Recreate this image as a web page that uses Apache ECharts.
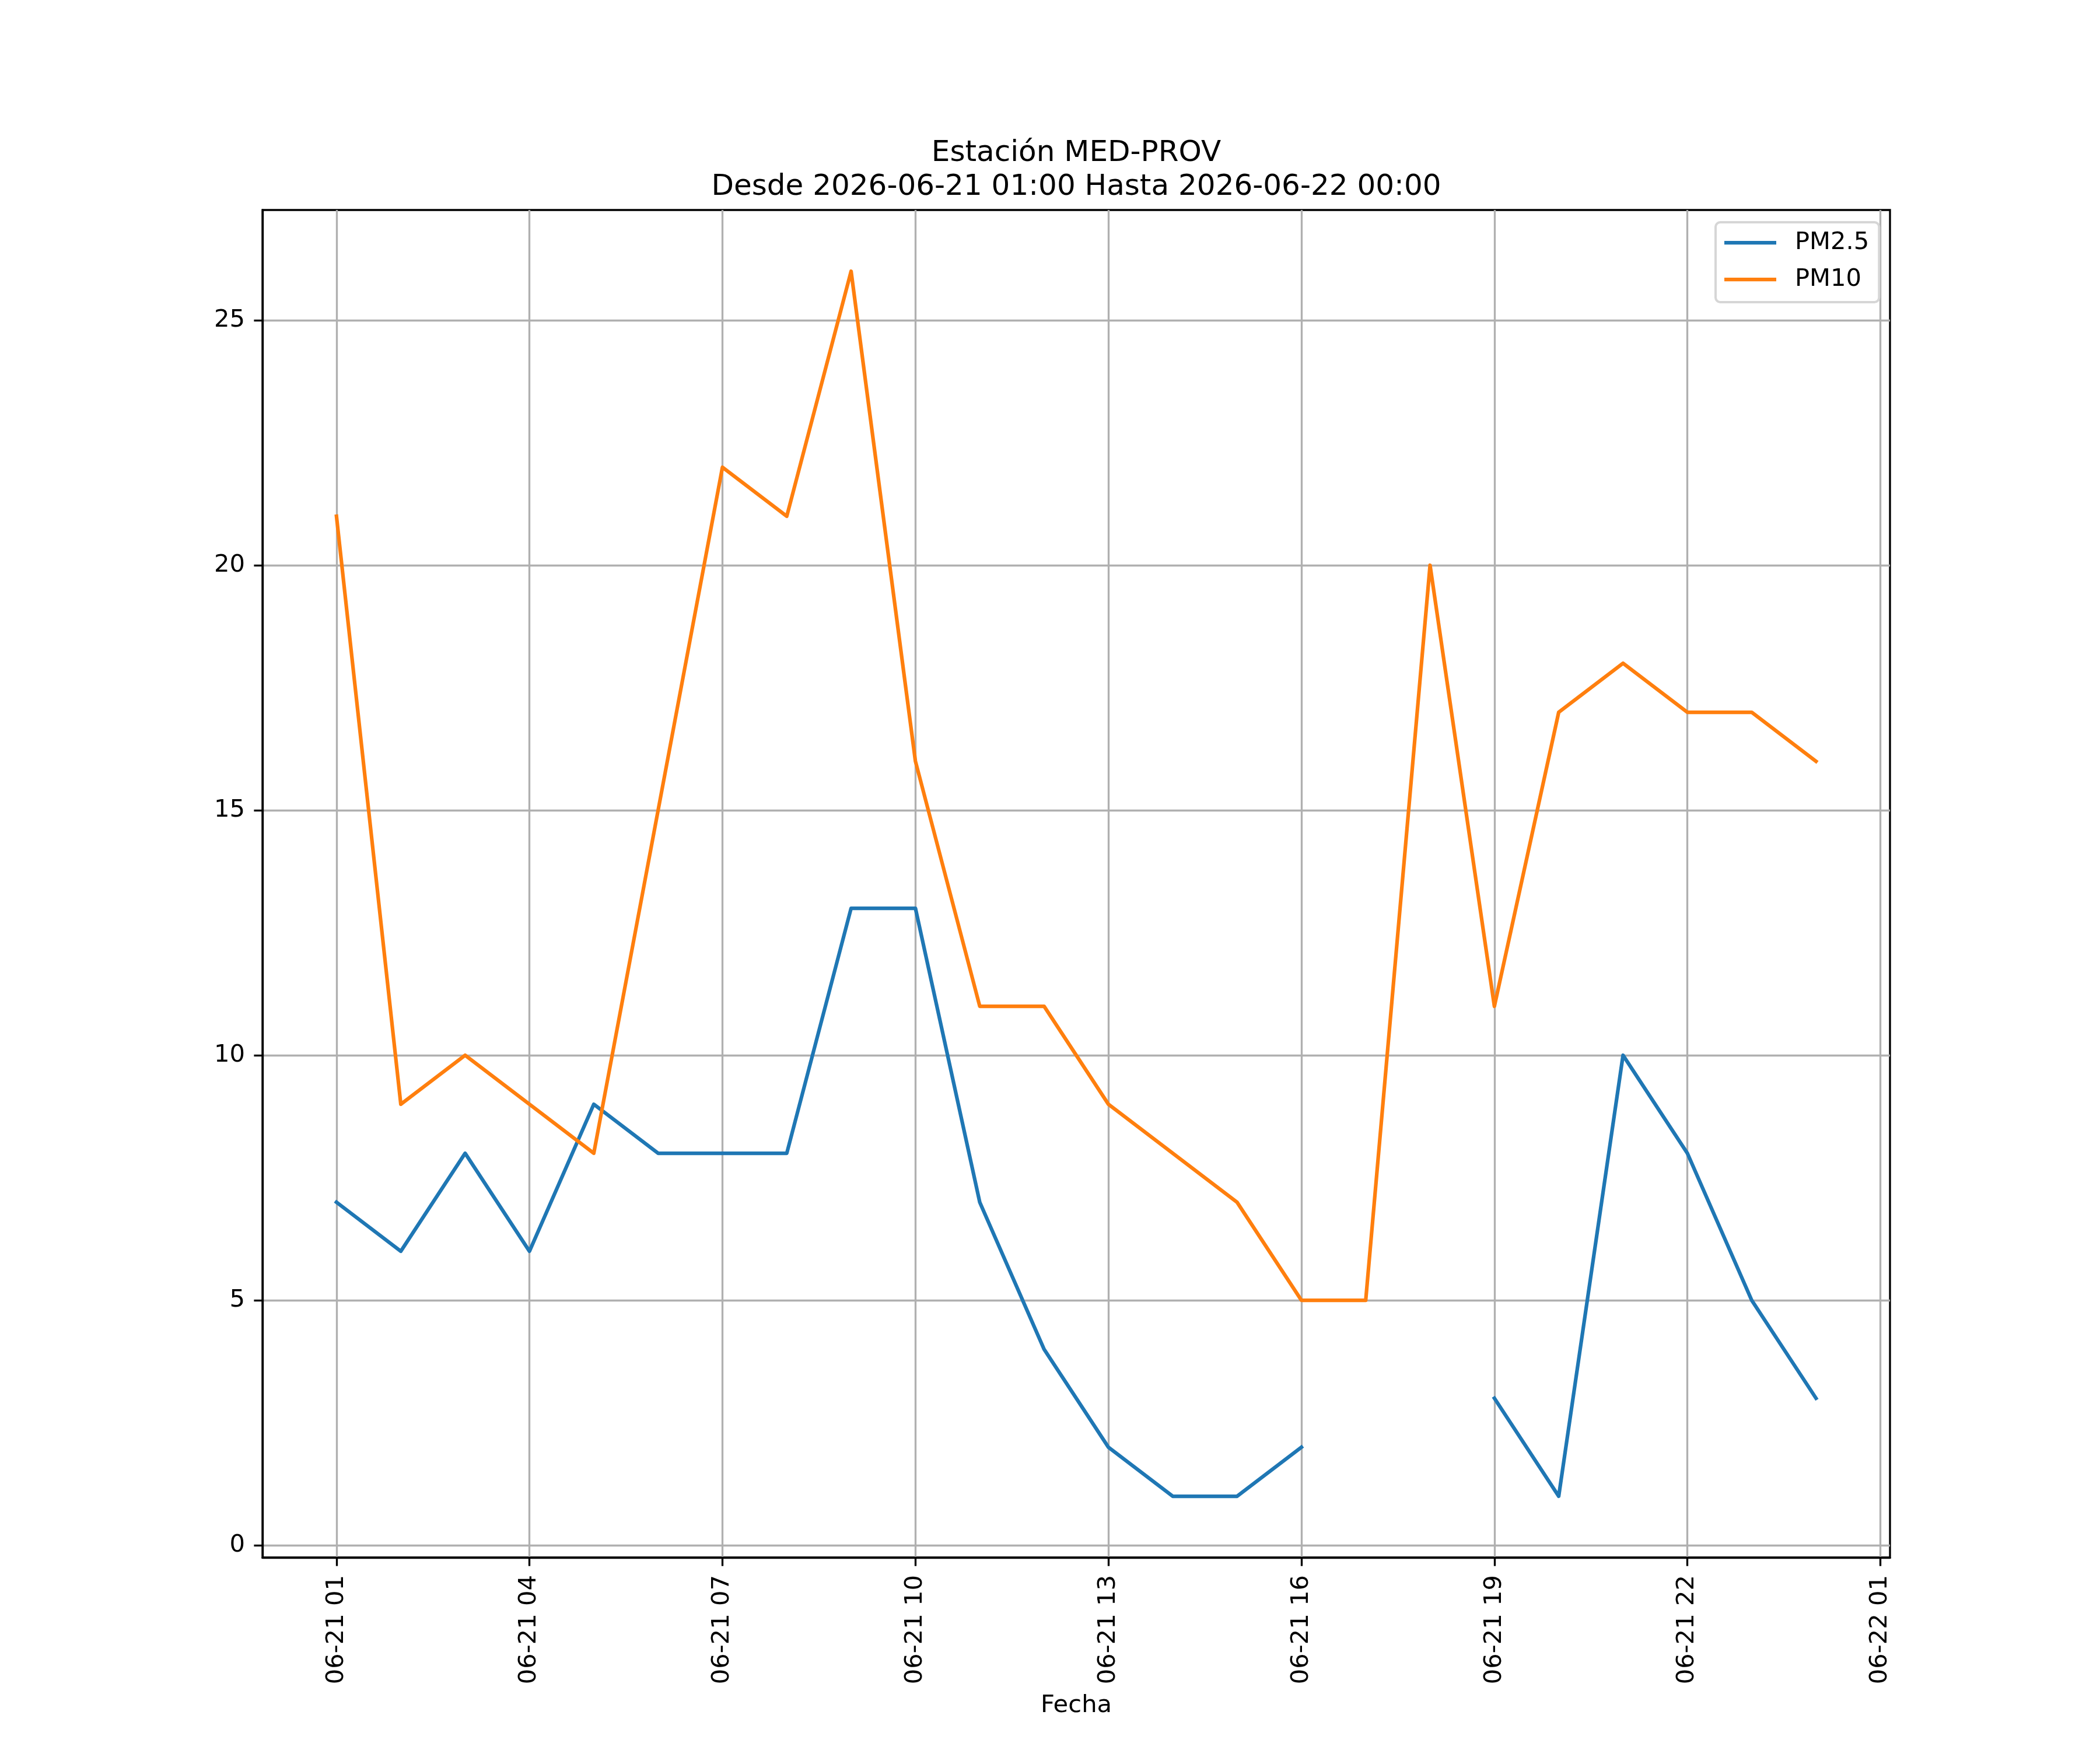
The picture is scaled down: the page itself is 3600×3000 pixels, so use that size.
<!DOCTYPE html>
<html>
<head>
<meta charset="utf-8">
<script src="https://cdn.jsdelivr.net/npm/echarts@6/dist/echarts.min.js"></script>
<style>html,body{margin:0;padding:0;background:#fff}#c{width:3600px;height:3000px}</style>
</head>
<body>
<div id="c"></div>
<script>
// hours after 2026-06-21 00:00
const hours = [1,2,3,4,5,6,7,8,9,10,11,12,13,14,15,16,17,18,19,20,21,22,23,24];
const pm25 = [7,6,8,6,9,8,8,8,13,13,7,4,2,1,1,2,null,null,3,1,10,8,5,3];
const pm10 = [21,9,10,9,8,15,22,21,26,16,11,11,9,8,7,5,5,20,11,17,18,17,17,16];
const xTicks = [1,4,7,10,13,16,19,22,25];
const yTicks = [0,5,10,15,20,25];
const titleText = 'Estación MED-PROV\nDesde 2026-06-21 01:00 Hasta 2026-06-22 00:00';

function pad(n){return (n<10?'0':'')+n;}
function fmtHour(v){ return v<=24 ? '06-21 '+pad(v) : '06-22 '+pad(v-24); }

const FONT = 'DejaVu Sans';
const FS = 41.67;
const chart = echarts.init(document.getElementById('c'), null, {renderer:'canvas', devicePixelRatio:1, width:3600, height:3000});
chart.setOption({
  animation:false,
  backgroundColor:'#ffffff',
  title:{
    text:titleText, left:1845, top:234, textAlign:'center', padding:0,
    textStyle:{fontFamily:FONT, fontSize:50, fontWeight:'normal', color:'#000', lineHeight:58}
  },
  legend:{
    orient:'vertical', left:2941, top:381, padding:[14,17,18,15],
    icon:'rect', itemWidth:89, itemHeight:6.25, itemGap:21,
    borderColor:'#d6d6d6', borderWidth:4, borderRadius:8, backgroundColor:'rgba(255,255,255,0.8)',
    textStyle:{fontFamily:FONT, fontSize:FS, color:'#000', lineHeight:42, padding:[0,0,0,27]},
    data:['PM2.5','PM10']
  },
  grid:{left:450, top:360, width:2790, height:2310, show:true, borderColor:'#000', borderWidth:3.33, backgroundColor:'transparent', containLabel:false},
  xAxis:{
    type:'value', min:1-1.15, max:24+1.15,
    name:'Fecha', nameLocation:'middle', nameGap:233,
    nameTextStyle:{fontFamily:FONT, fontSize:FS, color:'#000'},
    axisLine:{show:true, onZero:false, lineStyle:{color:'#000', width:3.33}},
    axisTick:{show:true, length:14.6, lineStyle:{color:'#000', width:3.33}, customValues:xTicks},
    axisLabel:{show:true, rotate:90, margin:30, fontFamily:FONT, fontSize:FS, color:'#000', customValues:xTicks, formatter:fmtHour},
    splitLine:{show:true, lineStyle:{color:'#b0b0b0', width:3.33}}
  },
  yAxis:{
    type:'value', min:-0.25, max:27.25,
    axisLine:{show:true, onZero:false, lineStyle:{color:'#000', width:3.33}},
    axisTick:{show:true, length:14.6, lineStyle:{color:'#000', width:3.33}, customValues:yTicks},
    axisLabel:{show:true, margin:30, fontFamily:FONT, fontSize:FS, color:'#000', customValues:yTicks},
    splitLine:{show:true, lineStyle:{color:'#b0b0b0', width:3.33}}
  },
  series:[
    {name:'PM2.5', type:'line', data:hours.map((h,i)=>[h,pm25[i]]), showSymbol:false, symbol:'none', connectNulls:false,
     lineStyle:{color:'#1f77b4', width:6.25, join:'round', cap:'square'}, itemStyle:{color:'#1f77b4'}},
    {name:'PM10', type:'line', data:hours.map((h,i)=>[h,pm10[i]]), showSymbol:false, symbol:'none',
     lineStyle:{color:'#ff7f0e', width:6.25, join:'round', cap:'square'}, itemStyle:{color:'#ff7f0e'}}
  ]
});
</script>
</body>
</html>
